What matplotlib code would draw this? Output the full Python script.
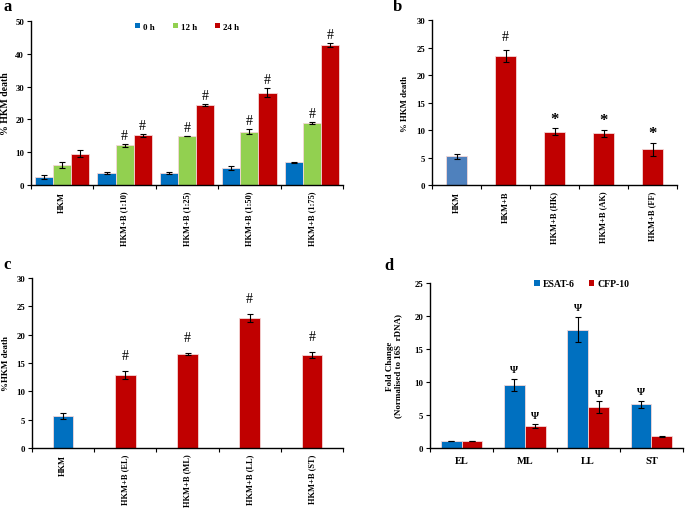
import matplotlib
matplotlib.use("Agg")
import matplotlib.pyplot as plt
import numpy as np
from matplotlib.ticker import FixedLocator, FormatStrFormatter
from matplotlib.patches import Patch

plt.rcParams['font.family'] = ['Liberation Serif', 'DejaVu Serif']
plt.rcParams['font.weight'] = 'bold'

# ---- Panel a data ----
a_categories = ["HKM", "HKM+B (1:10)", "HKM+B (1:25)", "HKM+B (1:50)", "HKM+B (1:75)"]
a_series = ["0 h", "12 h", "24 h"]
a_0h = [2.3, 3.7, 3.8, 5.1, 6.9]
a_0h_err = [0.6, 0.2, 0.3, 0.6, 0.15]
a_12h = [6.1, 12.1, 14.9, 16.3, 18.9]
a_12h_err = [0.9, 0.4, 0.1, 0.7, 0.3]
a_24h = [9.5, 15.1, 24.5, 28.2, 42.7]
a_24h_err = [1.1, 0.6, 0.3, 1.5, 0.7]
a_marks_12h = ["", "#", "#", "#", "#"]
a_marks_24h = ["", "#", "#", "#", "#"]

# ---- Panel b data ----
b_categories = ["HKM", "HKM+B", "HKM+B (HK)", "HKM+B (AK)", "HKM+B (FF)"]
b_values = [5.2, 23.5, 9.7, 9.4, 6.5]
b_err = [0.4, 1.1, 0.6, 0.6, 1.2]
b_marks = ["", "#", "*", "*", "*"]

# ---- Panel c data ----
c_categories = ["HKM", "HKM+B (EL)", "HKM+B (ML)", "HKM+B (LL)", "HKM+B (ST)"]
c_values = [5.6, 12.9, 16.6, 23.0, 16.4]
c_err = [0.5, 0.7, 0.1, 0.7, 0.6]
c_marks = ["", "#", "#", "#", "#"]

# ---- Panel d data ----
d_categories = ["EL", "ML", "LL", "ST"]
d_series = ["ESAT-6", "CFP-10"]
d_esat = [1.0, 9.5, 17.9, 6.6]
d_esat_err = [0.0, 0.9, 1.9, 0.5]
d_cfp = [1.0, 3.4, 6.2, 1.75]
d_cfp_err = [0.0, 0.3, 0.9, 0.12]
d_marks_esat = ["", "Ψ", "Ψ", "Ψ"]
d_marks_cfp = ["", "Ψ", "Ψ", ""]

BLUE = "#0070C0"
BLUE_B = "#4F81BD"
GREEN = "#92D050"
RED = "#C00000"
EDGE = "#F4D7D7"

TICK_FS = 6.3
XTICK_FS = 6.0

W, H = 685, 510
fig = plt.figure(figsize=(W / 100, H / 100), dpi=100)


def add_ax(left, top, right, bottom):
    return fig.add_axes([left / W, 1 - bottom / H, (right - left) / W, (bottom - top) / H])


def style(ax, n, ymax, ystep, labels, rotate=True):
    ax.set_xlim(-0.5, n - 0.5)
    ax.set_ylim(0, ymax)
    ax.set_yticks(np.arange(0, ymax + 0.01, ystep))
    ax.yaxis.set_major_formatter(FormatStrFormatter('%d'))
    ax.spines['top'].set_visible(False)
    ax.spines['right'].set_visible(False)
    ax.spines['left'].set_linewidth(1.0)
    ax.spines['bottom'].set_linewidth(1.0)
    ax.set_xticks(np.arange(n))
    ax.set_xticklabels(labels, rotation=90 if rotate else 0, fontsize=XTICK_FS, fontweight='bold')
    ax.tick_params(axis='x', which='major', length=0, pad=4)
    ax.xaxis.set_minor_locator(FixedLocator(np.arange(-0.5, n, 1.0)))
    ax.tick_params(axis='x', which='minor', length=3, width=0.8, direction='out')
    ax.tick_params(axis='y', length=3, width=0.8, labelsize=TICK_FS, pad=2)
    for t in ax.get_yticklabels():
        t.set_fontweight('bold')


def ylabel_at(ax, text, px_center, ax_left, ax_width, fs, **kw):
    ax.set_ylabel(text, fontsize=fs, fontweight='bold', va='center', **kw)
    ax.yaxis.set_label_coords((px_center - ax_left) / ax_width, 0.5)


def bars(ax, x, vals, errs, width, color, marks=None, mark_size=10, mark_off=1.0, weight='normal'):
    ax.bar(x, vals, width, color=color, edgecolor=EDGE, linewidth=0.6, zorder=2)
    ax.errorbar(x, vals, yerr=errs, fmt='none', ecolor='black', elinewidth=0.8,
                capsize=2, capthick=0.8, zorder=3)
    if marks:
        for xi, v, e, m in zip(x, vals, errs, marks):
            if m:
                ax.text(xi, v + e + mark_off, m, ha='center', va='bottom',
                        fontsize=mark_size, fontweight=weight, zorder=4)


# ---- Panel a ----
axa = add_ax(31, 22, 343, 186)
n = len(a_categories)
x = np.arange(n)
w = 0.29
bars(axa, x - w, a_0h, a_0h_err, w, BLUE)
bars(axa, x, a_12h, a_12h_err, w, GREEN, a_marks_12h, 10, 0.6)
bars(axa, x + w, a_24h, a_24h_err, w, RED, a_marks_24h, 10, 0.6)
style(axa, n, 50, 10, a_categories)
ylabel_at(axa, "% HKM death", 6, 31, 312, 7)
handles = [Patch(facecolor=c) for c in (BLUE, GREEN, RED)]
axa.legend(handles, a_series, loc='center', bbox_to_anchor=(0.5, 0.965), ncol=3,
           frameon=False, handlelength=0.55, handleheight=0.55,
           handletextpad=0.3, columnspacing=2.0, prop={'weight': 'bold', 'size': 6.5})

# ---- Panel b ----
axb = add_ax(432, 21, 677, 186)
n = len(b_categories)
x = np.arange(n)
bcolors = [BLUE_B] + [RED] * (n - 1)
axb.bar(x, b_values, 0.41, color=bcolors, edgecolor=EDGE, linewidth=0.6, zorder=2)
axb.errorbar(x, b_values, yerr=b_err, fmt='none', ecolor='black', elinewidth=0.8,
             capsize=2, capthick=0.8, zorder=3)
for xi, v, e, m in zip(x, b_values, b_err, b_marks):
    if m == "#":
        axb.text(xi, v + e + 1.2, m, ha='center', va='bottom', fontsize=10, fontweight='normal')
    elif m == "*":
        axb.text(xi, v + e + 0.3, m, ha='center', va='bottom', fontsize=12, fontweight='bold')
style(axb, n, 30, 5, b_categories)
ylabel_at(axb, "% HKM death", 405, 432, 245, 6.3)

# ---- Panel c ----
axc = add_ax(32, 279, 343, 449)
n = len(c_categories)
x = np.arange(n)
ccolors = [BLUE] + [RED] * (n - 1)
axc.bar(x, c_values, 0.33, color=ccolors, edgecolor=EDGE, linewidth=0.6, zorder=2)
axc.errorbar(x, c_values, yerr=c_err, fmt='none', ecolor='black', elinewidth=0.8,
             capsize=2, capthick=0.8, zorder=3)
for xi, v, e, m in zip(x, c_values, c_err, c_marks):
    if m:
        axc.text(xi, v + e + 1.6, m, ha='center', va='bottom', fontsize=10, fontweight='normal')
style(axc, n, 30, 5, c_categories)
ylabel_at(axc, "%HKM death", 6, 32, 311, 6.5)

# ---- Panel d ----
axd = add_ax(430, 284, 683, 449)
n = len(d_categories)
x = np.arange(n)
w = 0.33
bars(axd, x - w / 2, d_esat, d_esat_err, w, BLUE, d_marks_esat, 7.5, 0.8, 'bold')
bars(axd, x + w / 2, d_cfp, d_cfp_err, w, RED, d_marks_cfp, 7.5, 0.5, 'bold')
style(axd, n, 25, 5, d_categories, rotate=False)
axd.tick_params(axis='x', which='major', pad=6, labelsize=7.5)
ylabel_at(axd, "Fold Change\n(Normalised to 16S  rDNA)", 394, 430, 253, 6.5, linespacing=1.0)
handles = [Patch(facecolor=c) for c in (BLUE, RED)]
axd.legend(handles, d_series, loc='center', bbox_to_anchor=(0.6, 0.995), ncol=2,
           frameon=False, handlelength=0.55, handleheight=0.55,
           handletextpad=0.3, columnspacing=1.5, prop={'weight': 'bold', 'size': 7})

# panel letters
for txt, px, py in (("a", 4, 7), ("b", 393, 7), ("c", 3, 265), ("d", 384, 266)):
    fig.text(px / W, 1 - py / H, txt, fontsize=12, fontweight='bold', ha='left', va='center')

fig.savefig("out.png", dpi=100)
